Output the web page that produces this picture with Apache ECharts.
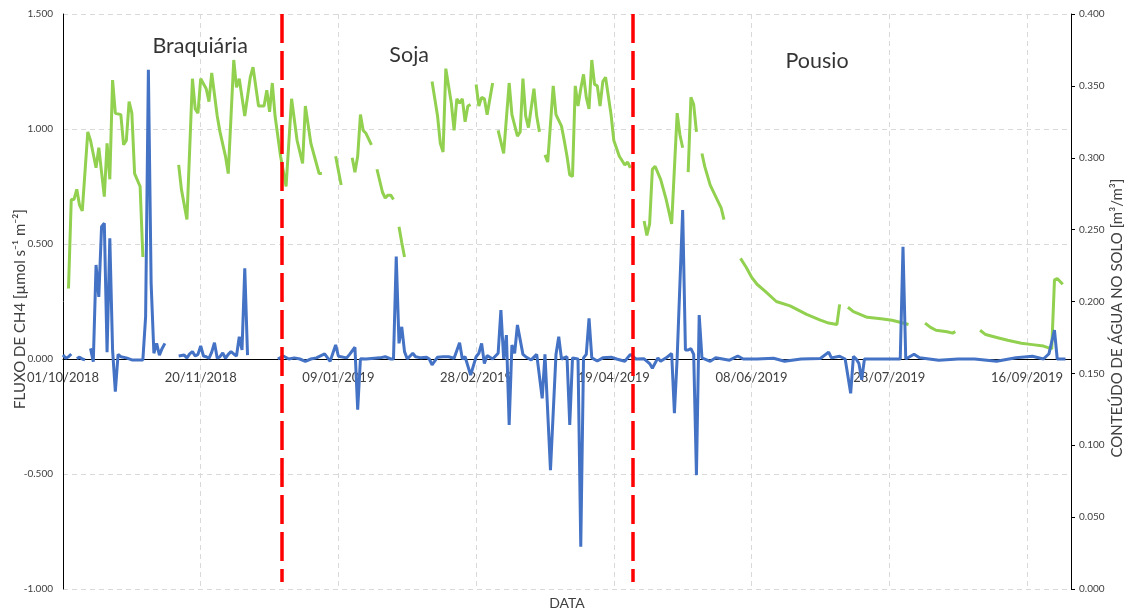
<!DOCTYPE html>
<html>
<head>
<meta charset="utf-8">
<script src="https://cdn.jsdelivr.net/npm/echarts@6/dist/echarts.min.js"></script>
<style>
  html, body { margin: 0; padding: 0; background: #fff; }
  #chart { width: 1129px; height: 610px; }
</style>
</head>
<body>
<div id="chart"></div>
<script>
// dias contados a partir de 01/10/2018
var startDate = Date.UTC(2018, 9, 1);

// fluxo de CH4 (eixo esquerdo); null = sem medida
var fluxDays = [0, 1, 2, 3, 4, 5, 6, 7, 8, 9, 10, 11, 12, 13, 14, 15, 16, 17, 18, 19, 20, 21, 23, 25, 27, 29, 30, 31, 32, 33, 34, 35, 36, 37, 39,
  42, 44, 45, 46, 47, 48, 49, 50, 51, 52, 53, 54, 55, 56, 57, 58, 59, 60, 61, 62, 63, 64, 65, 66, 67, 70,
  78, 80, 82, 84, 86, 88, 90, 92, 95, 97, 99, 100, 103, 104, 106, 107, 108, 110, 113, 115, 117, 119, 120, 121, 122, 123, 124, 125, 127, 128,
  130, 132, 133, 134, 136, 138, 140, 142, 144, 145, 146, 148, 150, 151, 152, 153, 154, 156, 158, 159, 160, 161, 162, 163, 164, 165, 167, 168,
  170, 172, 174, 175, 177, 179, 180, 181, 183, 184, 185, 187, 188, 189, 190, 191, 192, 194, 196, 199, 201, 204, 206, 208, 211, 213, 214, 216,
  217, 219, 221, 222, 223, 225, 226, 227, 228, 229, 230, 231, 232, 235, 237, 242, 245, 247, 252, 258, 262, 268, 275, 278, 279, 282, 284, 286,
  287, 288, 289, 290, 291, 297, 302, 304, 305, 306, 309, 311, 318, 325, 331, 339, 346, 352, 356, 358, 360, 361, 364];
var fluxVals = [0.017, 0.003, 0.010, 0.022, null, 0.002, 0.008, 0.000, -0.004, null, 0.046, -0.012, 0.409, 0.270, 0.575, 0.590, 0.030, 0.525, 0.040, -0.142, 0.020, 0.010, 0.005, -0.004, -0.004, -0.004, 0.184, 1.257, 0.329, 0.025, 0.068, 0.017, 0.046, 0.068, null,
  0.013, 0.017, 0.005, 0.022, 0.032, 0.013, 0.020, 0.057, 0.013, 0.010, 0.003, 0.030, 0.071, 0.003, 0.010, 0.026, 0.003, 0.020, 0.032, 0.022, 0.013, 0.097, 0.039, 0.394, 0.017, null,
  0.000, 0.013, 0.000, 0.005, 0.000, -0.010, 0.000, 0.005, 0.022, -0.010, 0.061, 0.012, 0.005, 0.019, 0.051, -0.220, 0.001, 0.000, 0.003, 0.005, 0.010, 0.000, 0.000, 0.445, 0.068, 0.140, 0.032, 0.000, 0.025, 0.010,
  0.005, 0.008, 0.000, -0.026, 0.008, 0.010, 0.010, 0.003, 0.071, 0.000, 0.010, -0.070, 0.010, 0.025, 0.068, -0.020, 0.015, 0.000, 0.025, 0.213, 0.000, 0.104, -0.287, 0.061, 0.025, 0.148, 0.020, 0.010,
  -0.004, 0.020, -0.171, 0.020, -0.483, 0.020, 0.097, 0.000, 0.010, -0.287, 0.005, 0.000, -0.816, 0.005, 0.020, 0.177, 0.005, -0.009, 0.005, 0.008, 0.000, -0.010, 0.020, 0.000, 0.001, -0.020, -0.040, 0.005,
  -0.010, 0.005, 0.024, -0.236, 0.005, 0.648, 0.039, 0.039, 0.045, 0.020, -0.505, 0.191, 0.005, -0.010, 0.005, -0.005, 0.013, 0.000, 0.000, 0.003, -0.010, 0.000, 0.002, 0.030, 0.005, 0.012, 0.000, -0.149,
  0.012, 0.000, -0.020, -0.090, 0.000, 0.000, 0.000, 0.000, 0.488, 0.000, 0.021, 0.005, -0.005, 0.000, 0.000, -0.010, 0.005, 0.012, 0.000, 0.023, 0.126, 0.000, 0.000];

// conteudo de agua no solo (eixo direito); null = sem medida
var waterDays = [2, 3, 4, 5, 6, 7, 9, 10, 12, 13, 15, 16, 17, 18, 19, 21, 22, 23, 24, 25, 26, 28, 29, 35,
  42, 43, 45, 47, 48, 49, 50, 52, 53, 54, 56, 57, 59, 60, 62, 63, 64, 66, 68, 69, 71, 73, 74, 75, 76, 77, 79, 81, 83, 85, 87, 88, 90, 92, 93, 94, 97,
  99, 101, 103, 105, 106, 107, 108, 109, 110, 112, 113, 114, 116, 117, 118, 119, 120, 121, 122, 123, 124, 129,
  134, 136, 137, 138, 139, 141, 142, 143, 144, 145, 146, 147, 148, 149, 150, 151, 152, 153, 154, 156, 157,
  158, 160, 162, 163, 165, 166, 167, 168, 169, 171, 172, 173, 174,
  175, 176, 178, 179, 181, 182, 183, 184, 185, 186, 187, 188, 189, 190, 191, 192, 193, 194, 195, 196, 197, 199, 200, 202, 204, 205, 206, 209,
  211, 212, 213, 214, 215, 217, 219, 221, 223, 224, 225, 226, 227, 228, 229, 230, 231, 232, 233, 235, 237, 239, 240, 243,
  246, 248, 250, 252, 255, 259, 264, 270, 275, 278, 281, 282, 283, 285, 287, 292, 297, 301, 305, 307, 310,
  313, 315, 317, 321, 323, 324, 328, 333, 335, 339, 343, 348, 352, 356, 359, 360, 361, 363];
var waterVals = [0.209, 0.271, 0.271, 0.278, 0.267, 0.263, 0.318, 0.312, 0.293, 0.307, 0.273, 0.310, 0.285, 0.354, 0.331, 0.330, 0.309, 0.312, 0.339, 0.331, 0.289, 0.280, 0.231, null,
  0.295, 0.278, 0.257, 0.355, 0.334, 0.331, 0.355, 0.348, 0.339, 0.359, 0.329, 0.318, 0.301, 0.289, 0.368, 0.349, 0.355, 0.329, 0.356, 0.363, 0.336, 0.336, 0.347, 0.332, 0.352, 0.329, 0.301, 0.280, 0.341, 0.312, 0.296, 0.336, 0.310, 0.296, 0.289, 0.289, null,
  0.301, 0.281, null, 0.300, 0.290, 0.301, 0.330, 0.319, 0.317, 0.309, null, 0.292, 0.276, 0.272, 0.274, 0.274, 0.271, null, 0.252, 0.241, 0.231, null,
  0.353, 0.329, 0.310, 0.304, 0.362, 0.338, 0.319, 0.341, 0.338, 0.341, 0.325, 0.336, 0.337, null, 0.351, 0.336, 0.342, 0.341, 0.330, 0.352, null,
  0.319, 0.303, 0.352, 0.330, 0.315, 0.318, 0.355, 0.329, 0.321, 0.348, 0.329, 0.318, null,
  0.302, 0.297, 0.350, 0.330, 0.322, 0.312, 0.301, 0.288, 0.287, 0.350, 0.336, 0.348, 0.358, 0.342, 0.334, 0.368, 0.351, 0.350, 0.336, 0.353, 0.356, 0.330, 0.312, 0.301, 0.295, 0.297, 0.293, null,
  0.256, 0.246, 0.254, 0.292, 0.294, 0.285, 0.271, 0.254, 0.331, 0.316, 0.307, null, 0.290, 0.342, 0.337, 0.318, null, 0.303, 0.294, 0.281, 0.273, 0.265, 0.257, null,
  0.230, 0.224, 0.217, 0.212, 0.207, 0.200, 0.197, 0.191, 0.187, 0.185, 0.184, 0.198, null, 0.196, 0.193, 0.189, 0.188, 0.187, 0.185, 0.184, null,
  0.185, 0.182, 0.180, 0.179, 0.178, 0.179, null, 0.180, 0.177, 0.175, 0.173, 0.171, 0.170, 0.169, 0.167, 0.215, 0.216, 0.212];

// limites das fases (linhas vermelhas) e nomes
var phaseLines = [79.4, 207];
var phaseNames = ['Braquiária', 'Soja', 'Pousio'];
var phaseNameDays = [49.8, 125.7, 273.8];
var phaseNameY = [1.361, 1.322, 1.296];

function pairs(days, vals) {
  return days.map(function (d, i) {
    return [d, vals[i] === null ? '-' : vals[i]];
  });
}

function pad(n) { return n < 10 ? '0' + n : '' + n; }
function dayLabel(v) {
  var d = new Date(startDate + v * 86400000);
  return pad(d.getUTCDate()) + '/' + pad(d.getUTCMonth() + 1) + '/' + d.getUTCFullYear();
}

var myChart = echarts.init(document.getElementById('chart'));
var font = 'Lato, "Open Sans", sans-serif';
var titleStyle = function (text) {
  return { text: text, font: '15px ' + font, fill: '#404040', align: 'center', verticalAlign: 'middle' };
};
var option = {
  animation: false,
  textStyle: { fontFamily: font },
  grid: { left: 63, right: 58, top: 14, bottom: 21, outerBoundsMode: 'none', containLabel: false },
  xAxis: {
    type: 'value',
    min: 0,
    max: 366,
    interval: 50,
    axisLine: { onZero: true, onZeroAxisIndex: 0, lineStyle: { color: '#000', width: 1 } },
    axisTick: { show: false },
    axisLabel: {
      formatter: dayLabel, fontSize: 13, color: '#404040', margin: -218,
      showMaxLabel: false, fontFamily: font
    },
    splitLine: { show: true, lineStyle: { color: '#d9d9d9', type: [5, 4] } }
  },
  yAxis: [{
    type: 'value',
    min: -1,
    max: 1.5,
    interval: 0.5,
    axisLine: { show: true, onZero: false, lineStyle: { color: '#000', width: 1 } },
    axisTick: { show: false },
    axisLabel: {
      formatter: function (v) { return v.toFixed(3); },
      fontSize: 10, color: '#404040', margin: 10, fontFamily: font
    },
    splitLine: { show: true, lineStyle: { color: '#d9d9d9', type: [5, 4] } }
  }, {
    type: 'value',
    position: 'right',
    min: 0,
    max: 0.4,
    interval: 0.05,
    axisLine: { show: true, onZero: false, lineStyle: { color: '#000', width: 1 } },
    axisTick: { show: true, length: 4, lineStyle: { color: '#000' } },
    axisLabel: {
      formatter: function (v) { return v.toFixed(3); },
      fontSize: 10, color: '#404040', margin: 8, fontFamily: font
    },
    splitLine: { show: false }
  }],
  series: [{
    name: 'Água no solo',
    type: 'line',
    yAxisIndex: 1,
    data: pairs(waterDays, waterVals),
    showSymbol: false,
    connectNulls: false,
    lineStyle: { color: '#92D050', width: 3 },
    itemStyle: { color: '#92D050' }
  }, {
    name: 'Fluxo CH4',
    type: 'line',
    yAxisIndex: 0,
    data: pairs(fluxDays, fluxVals),
    showSymbol: false,
    connectNulls: false,
    lineStyle: { color: '#4472C4', width: 3 },
    itemStyle: { color: '#4472C4' },
    markLine: {
      silent: true,
      symbol: ['none', 'none'],
      label: { show: false },
      lineStyle: { color: '#ff0000', width: 3.5, type: [29, 8] },
      data: phaseLines.map(function (d) {
        return [{ coord: [d, 1.5] }, { coord: [d, -0.97] }];
      })
    }
  }, {
    name: 'Fases',
    type: 'scatter',
    yAxisIndex: 0,
    symbolSize: 0,
    silent: true,
    data: phaseNameDays.map(function (d, i) {
      return { value: [d, phaseNameY[i]], name: phaseNames[i] };
    }),
    label: {
      show: true,
      position: 'inside',
      formatter: '{b}',
      fontSize: 21.5,
      color: '#000',
      fontFamily: font
    }
  }],
  graphic: [{
    type: 'text',
    x: 20, y: 309,
    rotation: Math.PI / 2,
    style: titleStyle('FLUXO DE CH4 [µmol s⁻¹ m⁻²]')
  }, {
    type: 'text',
    x: 1117, y: 318,
    rotation: Math.PI / 2,
    style: titleStyle('CONTEÚDO DE ÁGUA NO SOLO [m³/m³]')
  }, {
    type: 'text',
    x: 567, y: 603,
    style: { text: 'DATA', font: '14px ' + font, fill: '#404040', align: 'center', verticalAlign: 'middle' }
  }]
};
myChart.setOption(option);
</script>
</body>
</html>
